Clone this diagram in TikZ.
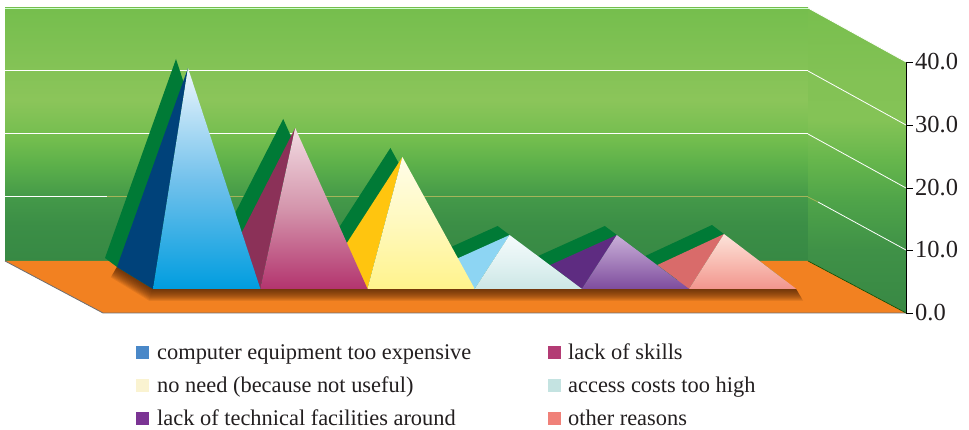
\documentclass[tikz,border=0pt]{standalone}
\usepackage{fontspec}
\setmainfont{Liberation Serif}
\usetikzlibrary{fadings}
% wall colours
\definecolor{wA}{HTML}{378944}
\definecolor{wB}{HTML}{3B8E46}
\definecolor{wC}{HTML}{449949}
\definecolor{wD}{HTML}{5CB04A}
\definecolor{wE}{HTML}{72BD4E}
\definecolor{wF}{HTML}{8BC55A}
\definecolor{wG}{HTML}{82C255}
\definecolor{wH}{HTML}{75BE4D}
\definecolor{sA}{HTML}{388844}
\definecolor{sB}{HTML}{3F9147}
\definecolor{sC}{HTML}{4FA449}
\definecolor{sD}{HTML}{66B64C}
\definecolor{sE}{HTML}{84C356}
\definecolor{sF}{HTML}{83C255}
\definecolor{sG}{HTML}{78BF4E}
\definecolor{olive}{HTML}{A5B55A}
\definecolor{floorc}{HTML}{F28121}
\definecolor{floorline}{HTML}{6D6E71}
\definecolor{shadowc}{HTML}{4A2006}
\definecolor{shadowgreen}{HTML}{007A36}
% pyramids
\definecolor{bluS}{HTML}{00427A}\definecolor{bluT}{HTML}{EEF7FD}\definecolor{bluM}{HTML}{74C2EC}\definecolor{bluB}{HTML}{009DDF}
\definecolor{pinS}{HTML}{8B3158}\definecolor{pinT}{HTML}{F2DCE2}\definecolor{pinM}{HTML}{D495AC}\definecolor{pinB}{HTML}{B3346E}
\definecolor{yelS}{HTML}{FFC50F}\definecolor{yelT}{HTML}{FFFDE9}\definecolor{yelM}{HTML}{FFF9BE}\definecolor{yelB}{HTML}{FFF38C}
\definecolor{cyaS}{HTML}{8DD5F3}\definecolor{cyaT}{HTML}{F5FBFC}\definecolor{cyaM}{HTML}{E2F2F2}\definecolor{cyaB}{HTML}{CCE7E5}
\definecolor{purS}{HTML}{5E2C81}\definecolor{purT}{HTML}{C9AFD8}\definecolor{purM}{HTML}{A47FBB}\definecolor{purB}{HTML}{7E4C9D}
\definecolor{salS}{HTML}{D96B6A}\definecolor{salT}{HTML}{FCE3DA}\definecolor{salM}{HTML}{F8BDB3}\definecolor{salB}{HTML}{F2958D}
% legend
\definecolor{lbA}{HTML}{4A88C8}
\definecolor{lbB}{HTML}{B33B74}
\definecolor{lbC}{HTML}{FAF3D1}
\definecolor{lbD}{HTML}{C4E3E1}
\definecolor{lbE}{HTML}{7B3494}
\definecolor{lbF}{HTML}{F08179}
\definecolor{legtxt}{HTML}{231F20}
\pgfdeclareverticalshading{wallshade}{100bp}{color(0bp)=(wA); color(25bp)=(wA); color(32bp)=(wB); color(37.6bp)=(wC); color(44bp)=(wD); color(48.9bp)=(wE); color(56.8bp)=(wF); color(64.7bp)=(wG); color(75bp)=(wH); color(100bp)=(wH)}
\pgfdeclareverticalshading{sideshade}{100bp}{color(0bp)=(sA); color(25bp)=(sA); color(35.3bp)=(sB); color(43.5bp)=(sC); color(50bp)=(sD); color(56.6bp)=(sE); color(63.2bp)=(sF); color(75bp)=(sG); color(100bp)=(sG)}
\tikzset{
  gridw/.style={draw=white, line width=1pt},
  axlab/.style={anchor=west, inner sep=0pt, font=\fontsize{24.5}{28}\selectfont, text=legtxt},
  legtext/.style={anchor=base west, inner sep=0pt, font=\fontsize{22.4}{26}\selectfont, text=legtxt},
}
\begin{document}
\begin{tikzpicture}[x=1pt,y=-1pt]
\useasboundingbox (0,0) rectangle (969,430);
\fill[white] (0,0) rectangle (969,430);
% back wall
\shade[shading=wallshade] (5,8) rectangle (808,261);
\draw[draw=white!80!green, line width=0.8pt] (5,8) -- (808,8);
\draw[gridw] (5,71) -- (808,71);
\draw[gridw] (5,134) -- (808,134);
\draw[gridw] (5,197) -- (107,197);
\draw[draw=olive, line width=1pt] (107,197) -- (808,197);
% side wall
\shade[shading=sideshade] (808,8) -- (906,62) -- (906,313) -- (808,261) -- cycle;
\draw[draw=white, line width=0.7pt] (808,8) -- (906,62);
\draw[draw=white, line width=0.8pt] (808,71) -- (906,125);
\draw[draw=white, line width=0.8pt] (808,134) -- (906,188);
\draw[draw=olive, line width=0.8pt] (808,197) -- (818,202);
\draw[draw=white, line width=0.8pt] (818,202) -- (906,250);
% floor
\fill[floorc] (5,261) -- (808,261) -- (906,313) -- (103,313) -- cycle;
\draw[draw=floorline, line width=0.8pt] (5,261) -- (103,313) -- (906,313);
\draw[draw=black!70!green, line width=0.6pt] (808,261) -- (906,313);
% soft shadow on floor
\foreach \k in {1,...,12} {
  \fill[shadowc, opacity=0.1] (117,267) -- (153,289) -- (796,289) -- (796+0.6*\k,289+\k) -- (153-0.29*\k,289+\k) -- (117-0.52*\k,267+0.86*\k) -- cycle;
}
% pyramids, drawn from right to left
\foreach \i/\ay/\sc/\tcol/\mcol/\bcol in {5/234/salS/salT/salM/salB, 4/235/purS/purT/purM/purB, 3/235/cyaS/cyaT/cyaM/cyaB, 2/157/yelS/yelT/yelM/yelB, 1/128/pinS/pinT/pinM/pinB, 0/68/bluS/bluT/bluM/bluB} {
  \pgfmathsetmacro\xl{153+107.2*\i}
  \pgfmathsetmacro\xr{\xl+107.4}
  \pgfmathsetmacro\ax{\xl+35}
  \fill[shadowgreen] (\xl-48,258) -- (\ax-12,\ay-9) -- (\xr-12,280) -- (\xl,289) -- (\xl-36,267) -- cycle;
  \fill[\sc] (\ax,\ay) -- (\xl-36,267) -- (\xl,289) -- cycle;
  \shade[top color=\tcol, bottom color=\bcol, middle color=\mcol] (\ax,\ay) -- (\xl,289) -- (\xr,289) -- cycle;
}
% axis
\draw[black, line width=0.8pt] (906,62) -- (906,313);
\foreach \yy in {62,125,188,250,313} { \draw[black, line width=0.8pt] (906,\yy) -- (913,\yy); }
\node[axlab] (l40) at (915,62) {40.0};
\node[axlab] (l30) at (915,125) {30.0};
\node[axlab] (l20) at (915,188) {20.0};
\node[axlab] (l10) at (915,250) {10.0};
\node[axlab] (l0) at (915,313) {0.0};
% legend
\fill[lbA] (136,346) rectangle (149,359);
\node[legtext] (t1) at (157,359) {computer equipment too expensive};
\fill[lbB] (548,346) rectangle (561,359);
\node[legtext] (t2) at (568,359) {lack of skills};
\fill[lbC] (136,379) rectangle (149,392);
\node[legtext] (t3) at (157,392) {no need (because not useful)};
\fill[lbD] (548,379) rectangle (561,392);
\node[legtext] (t4) at (568,392) {access costs too high};
\fill[lbE] (136,412) rectangle (149,425);
\node[legtext] (t5) at (157,425) {lack of technical facilities around};
\fill[lbF] (548,412) rectangle (561,425);
\node[legtext] (t6) at (568,425) {other reasons};
\end{tikzpicture}
\end{document}
